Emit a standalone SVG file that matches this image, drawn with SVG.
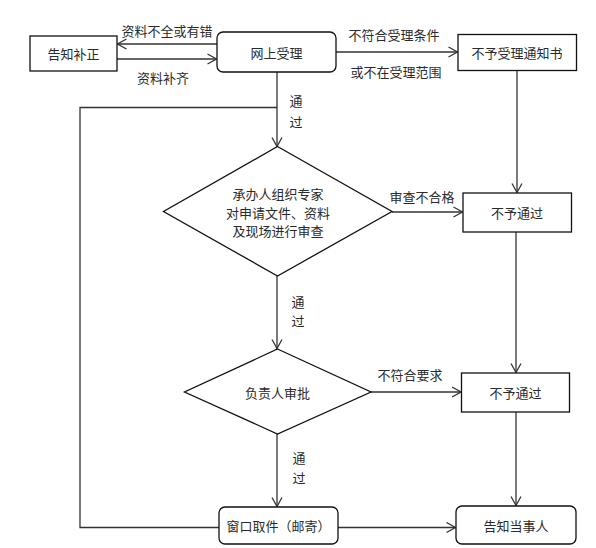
<svg xmlns="http://www.w3.org/2000/svg" width="596" height="548" viewBox="0 0 596 548">
<style>
.n{fill:#fff;stroke:#111;stroke-width:1.3}
.c{fill:none;stroke:#333;stroke-width:1.3}
.t{font-family:"Noto Sans CJK SC","Noto Sans",sans-serif;font-size:13px;fill:#2a2a2a;text-anchor:middle;dominant-baseline:central}
</style>
<defs>
<marker id="a" markerWidth="12" markerHeight="12" viewBox="0 0 12 12" refX="11" refY="6" orient="auto" markerUnits="userSpaceOnUse">
<polyline points="2,1 11,6 2,11" fill="none" stroke="#333" stroke-width="1.3"/>
</marker>
</defs>
<rect width="596" height="548" fill="#fff"/>
<g id="connectors">
<line class="c" x1="217" y1="44" x2="117.5" y2="44" marker-end="url(#a)"/>
<line class="c" x1="117" y1="59" x2="216.5" y2="59" marker-end="url(#a)"/>
<line class="c" x1="336" y1="52" x2="457.5" y2="52" marker-end="url(#a)"/>
<line class="c" x1="277" y1="72" x2="277" y2="146.5" marker-end="url(#a)"/>
<polyline class="c" points="277,107.5 80,107.5 80,527.5 219,527.5"/>
<line class="c" x1="517" y1="70" x2="517" y2="192.5" marker-end="url(#a)"/>
<line class="c" x1="392" y1="212" x2="462.5" y2="212" marker-end="url(#a)"/>
<line class="c" x1="277" y1="276" x2="277" y2="348.5" marker-end="url(#a)"/>
<line class="c" x1="516" y1="232" x2="516" y2="372.5" marker-end="url(#a)"/>
<line class="c" x1="371" y1="392" x2="461" y2="392" marker-end="url(#a)"/>
<line class="c" x1="277" y1="434" x2="277" y2="506.5" marker-end="url(#a)"/>
<line class="c" x1="338" y1="527.5" x2="455.5" y2="527.5" marker-end="url(#a)"/>
<line class="c" x1="516" y1="412" x2="516" y2="505.5" marker-end="url(#a)"/>
<text class="t" x="167" y="30">资料不全或有错</text>
<text class="t" x="163" y="77">资料补齐</text>
<text class="t" x="394" y="34">不符合受理条件</text>
<text class="t" x="396" y="71">或不在受理范围</text>
<text class="t" x="296" y="100">通</text>
<text class="t" x="296" y="121">过</text>
<text class="t" x="422" y="196">审查不合格</text>
<text class="t" x="298" y="301">通</text>
<text class="t" x="298" y="320">过</text>
<text class="t" x="410" y="374">不符合要求</text>
<text class="t" x="299" y="457">通</text>
<text class="t" x="299" y="477">过</text>
</g>
<g id="n1"><rect class="n" x="30" y="36" width="87" height="35"/><text class="t" x="73.5" y="53.5">告知补正</text></g>
<g id="n2"><rect class="n" x="217" y="32" width="119" height="40" rx="6"/><text class="t" x="276.5" y="52">网上受理</text></g>
<g id="n3"><rect class="n" x="458" y="34.5" width="118.5" height="36"/><text class="t" x="517" y="52.5">不予受理通知书</text></g>
<g id="n4"><polygon class="n" points="277.5,146.5 392,211.5 277.5,276 163.5,211.5"/>
<text class="t" x="278" y="193">承办人组织专家</text>
<text class="t" x="278" y="212">对申请文件、资料</text>
<text class="t" x="278" y="230">及现场进行审查</text></g>
<g id="n5"><rect class="n" x="463" y="193" width="108.5" height="39"/><text class="t" x="517" y="212.5">不予通过</text></g>
<g id="n6"><polygon class="n" points="277.5,349 371,392 277.5,434 184.5,392"/><text class="t" x="277.5" y="392">负责人审批</text></g>
<g id="n7"><rect class="n" x="461.5" y="373" width="108" height="39"/><text class="t" x="515.5" y="392.5">不予通过</text></g>
<g id="n8"><rect class="n" x="219" y="507" width="119" height="37" rx="6"/><text class="t" x="278.5" y="525.5">窗口取件（邮寄）</text></g>
<g id="n9"><rect class="n" x="456" y="506" width="120" height="38" rx="6"/><text class="t" x="516" y="525">告知当事人</text></g>
</svg>
